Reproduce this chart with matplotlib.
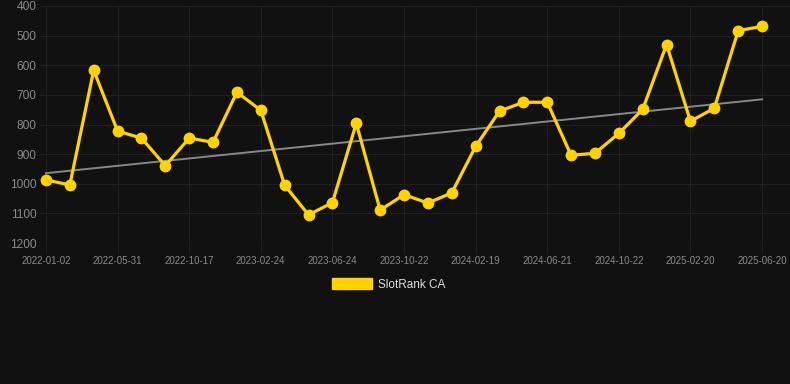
import numpy as np
import matplotlib
matplotlib.use("Agg")
import matplotlib.pyplot as plt
from matplotlib.patches import Patch

plt.rcParams['font.family'] = ['Liberation Sans', 'DejaVu Sans']

# rank values (lower is better), one point per period
ranks = [987, 1004, 617, 822, 846, 939, 846, 860, 691, 752,
         1005, 1105, 1064, 796, 1089, 1037, 1065, 1031, 874, 755,
         725, 725, 904, 897, 830, 749, 530, 789, 745, 483, 469]
tick_idx = [0, 3, 6, 9, 12, 15, 18, 21, 24, 27, 30]
tick_labels = ["2022-01-02", "2022-05-31", "2022-10-17", "2023-02-24",
               "2023-06-24", "2023-10-22", "2024-02-19", "2024-06-21",
               "2024-10-22", "2025-02-20", "2025-06-20"]
y_ticks = [400, 500, 600, 700, 800, 900, 1000, 1100, 1200]
series_name = "SlotRank CA"

bg = "#111111"
gold = "#FFD200"
grid_c = "#202020"

x = np.arange(len(ranks))
k, b = np.polyfit(x, ranks, 1)

fig = plt.figure(figsize=(7.9, 3.84), dpi=100, facecolor=bg)
ax = fig.add_axes([40 / 790, 1 - 243 / 384, 750 / 790, 237 / 384])
ax.set_facecolor(bg)

ax.plot(x, k * x + b, color="#888888", lw=1.4, zorder=2)
ax.plot(x, ranks, color=gold, lw=2.3, marker="o", ms=7.5, zorder=3)

ax.set_ylim(1200, 400)
ax.set_xlim(-0.25, 31.17)
ax.set_yticks(y_ticks)
ax.set_xticks(tick_idx)
ax.set_xticklabels(tick_labels)
ax.grid(True, color=grid_c, lw=0.8)
for s in ax.spines.values():
    s.set_visible(False)
ax.tick_params(axis="y", length=0, pad=2.5, labelsize=8.6, labelcolor="#8a8a8a")
ax.tick_params(axis="x", length=7, color=grid_c, pad=2, labelsize=7, labelcolor="#8a8a8a")

fig.legend(handles=[Patch(facecolor=gold, edgecolor=gold)], labels=[series_name],
           loc="center", bbox_to_anchor=(389 / 790, 1 - 284.5 / 384),
           frameon=False, fontsize=8.5, labelcolor="#dddddd",
           handlelength=3.4, handleheight=1.0, handletextpad=0.5)

fig.savefig("out.png", dpi=100, facecolor=bg)
